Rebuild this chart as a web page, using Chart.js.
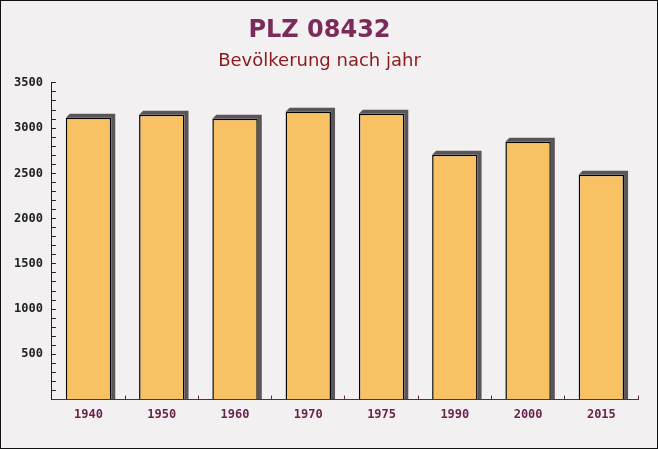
<!DOCTYPE html>
<html>
<head>
<meta charset="utf-8">
<script src="https://cdn.jsdelivr.net/npm/chart.js@4"></script>
<style>
  html, body { margin: 0; padding: 0; background: #f2f0f1; }
  #wrap { width: 658px; height: 449px; }
</style>
</head>
<body>
<div id="wrap"><canvas id="popChart" width="658" height="449"></canvas></div>
<script>
var years = ['1940', '1950', '1960', '1970', '1975', '1990', '2000', '2015'];
var population = [3114, 3147, 3103, 3180, 3158, 2705, 2849, 2484];
var yLabels = [500, 1000, 1500, 2000, 2500, 3000, 3500];

// page background + thin frame
var bgPlugin = {
  id: 'bg',
  beforeDraw: function (chart) {
    var c = chart.ctx;
    c.save();
    c.fillStyle = '#f2f0f1';
    c.fillRect(0, 0, chart.width, chart.height);
    c.strokeStyle = '#111';
    c.lineWidth = 1;
    c.strokeRect(0.5, 0.5, chart.width - 1, chart.height - 1);
    c.restore();
  }
};

// dark 3d side behind each bar
var depthPlugin = {
  id: 'depth',
  beforeDatasetsDraw: function (chart) {
    var c = chart.ctx;
    var d = 4;
    c.save();
    c.fillStyle = '#5b5558';
    chart.getDatasetMeta(0).data.forEach(function (bar) {
      var left = bar.x - bar.width / 2;
      var right = bar.x + bar.width / 2;
      c.beginPath();
      c.moveTo(left, bar.y);
      c.lineTo(left + d, bar.y - d);
      c.lineTo(right + d, bar.y - d);
      c.lineTo(right + d, bar.base);
      c.lineTo(right, bar.base);
      c.lineTo(right, bar.y);
      c.closePath();
      c.fill();
    });
    c.restore();
  }
};

var ctx = document.getElementById('popChart').getContext('2d');
var popChart = new Chart(ctx, {
  type: 'bar',
  data: {
    labels: years,
    datasets: [{
      label: 'Bevölkerung',
      data: population,
      backgroundColor: '#f7c164',
      borderColor: '#000',
      borderWidth: 1.5,
      barPercentage: 0.62,
      categoryPercentage: 1
    }]
  },
  plugins: [bgPlugin, depthPlugin],
  options: {
    responsive: false,
    animation: false,
    layout: { padding: { left: 1, right: 20, top: 8, bottom: 15 } },
    plugins: {
      legend: { display: false },
      tooltip: { enabled: false },
      title: {
        display: true,
        text: 'PLZ 08432',
        color: '#7a2b5a',
        font: { family: 'DejaVu Sans', size: 24, weight: 'bold' },
        padding: { top: 8, bottom: 6 }
      },
      subtitle: {
        display: true,
        text: 'Bevölkerung nach jahr',
        color: '#8b1a1a',
        font: { family: 'DejaVu Sans', size: 18 },
        padding: { bottom: 10.5 }
      }
    },
    scales: {
      x: {
        grid: { drawOnChartArea: false, tickLength: -4, color: '#5a2a45' },
        border: { color: '#5a2a45', width: 1 },
        ticks: {
          padding: 12,
          color: '#6b2350',
          font: { family: 'DejaVu Sans Mono', size: 12, weight: 'bold' }
        }
      },
      y: {
        min: 0,
        max: 3500,
        grid: { drawOnChartArea: false, tickLength: -4, color: '#222' },
        border: { color: '#222', width: 1 },
        ticks: {
          stepSize: 100,
          autoSkip: false,
          padding: 13,
          color: '#222',
          font: { family: 'DejaVu Sans Mono', size: 12, weight: 'bold' },
          callback: function (v) {
            return yLabels.indexOf(v) >= 0 ? String(v) : '';
          }
        }
      }
    }
  }
});
</script>
</body>
</html>
